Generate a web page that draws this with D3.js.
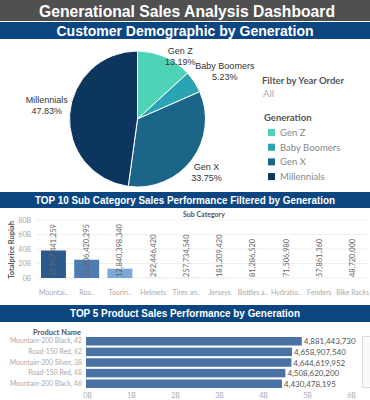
<!DOCTYPE html>
<meta charset="utf-8">
<title>Generational Sales Analysis Dashboard</title>
<style>
    body { margin: 0; background: #fff; }
    svg { display: block; }
    .band-title { fill: #fff; font-family: "Liberation Sans", Arial, sans-serif; font-weight: bold; text-anchor: middle; }
    .small { font-family: Lato, "Open Sans", sans-serif; }
</style>
<body>
</body>
<script src="https://d3js.org/d3.v7.min.js"></script>
<script>
    const width = 370, height = 400;

    // pie data
    const generations = ["Gen Z", "Baby Boomers", "Gen X", "Millennials"];
    const genShares = [13.19, 5.23, 33.75, 47.83];
    const genColors = ["#4fd3b6", "#2aa3b2", "#1b6688", "#0d365f"];

    // top 10 sub categories
    const subCategories = ["Mountai..", "Roa..", "Tourin..", "Helmets", "Tires an..", "Jerseys", "Bottles a..", "Hydratio..", "Fenders", "Bike Racks"];
    const subValues = [37967441259, 25206420295, 12840398340, 292446420, 257734540, 181209420, 81286520, 71506980, 57861360, 48720000];
    const subTicks = [0, 20e9, 40e9, 60e9, 80e9];

    // top 5 products
    const products = ["Mountain-200 Black, 42", "Road-150 Red, 62", "Mountain-200 Silver, 38", "Road-150 Red, 48", "Mountain-200 Black, 46"];
    const productValues = [4881443730, 4658907540, 4644619952, 4508620200, 4430478195];
    const productTicks = [0, 1e9, 2e9, 3e9, 4e9, 5e9, 6e9];

    const svg = d3.select("body").append("svg")
        .attr("width", width)
        .attr("height", height);

    // header bands (titles squeezed to the width seen in the dashboard)
    svg.append("rect").attr("x", 0).attr("y", 0).attr("width", width).attr("height", 21).attr("fill", "#505050");
    svg.append("text").attr("class", "band-title").attr("x", 187).attr("y", 17)
        .attr("textLength", 296).attr("lengthAdjust", "spacingAndGlyphs")
        .style("font-size", "17px").text("Generational Sales Analysis Dashboard");

    function band(y, h, size, len, label) {
        svg.append("rect").attr("x", 0).attr("y", y).attr("width", width).attr("height", h).attr("fill", "#0b4680");
        svg.append("text").attr("class", "band-title").attr("x", 185).attr("y", y + h / 2 + size * 0.36)
            .attr("textLength", len).attr("lengthAdjust", "spacingAndGlyphs")
            .style("font-size", size + "px").text(label);
    }
    band(22, 17, 14, 257, "Customer Demographic by Generation");
    band(192, 16, 10, 300, "TOP 10 Sub Category Sales Performance Filtered by Generation");
    band(305, 17, 11, 230, "TOP 5 Product Sales Performance by Generation");

    // ---- pie ----
    const pieData = generations.map((g, i) => ({name: g, value: genShares[i], color: genColors[i]}));
    const pie = d3.pie().sort(null).value(d => d.value);
    const arc = d3.arc().innerRadius(0).outerRadius(68);
    const pieG = svg.append("g").attr("transform", "translate(137.5,119)");
    pieG.selectAll("path")
        .data(pie(pieData))
        .join("path")
        .attr("d", arc)
        .attr("fill", d => d.data.color)
        .attr("stroke", "#fff")
        .attr("stroke-width", 1);

    // label positions around the pie
    const labelArc = d3.arc().innerRadius(84).outerRadius(84);
    const labelShift = {"Gen Z": [9, 12], "Baby Boomers": [17, -4], "Gen X": [2, 0], "Millennials": [-7, -10]};
    pieG.selectAll("g.lbl")
        .data(pie(pieData))
        .join("g")
        .attr("class", "lbl")
        .attr("transform", d => {
            const c = labelArc.centroid(d);
            const s = labelShift[d.data.name];
            return `translate(${c[0] + s[0]},${c[1] + s[1]})`;
        })
        .each(function (d) {
            const t = d3.select(this).append("text")
                .attr("text-anchor", "middle")
                .style("font-family", "Liberation Sans, Arial, sans-serif")
                .style("font-size", "9px")
                .attr("fill", "#333");
            t.append("tspan").attr("x", 0).attr("dy", 0).text(d.data.name);
            t.append("tspan").attr("x", 0).attr("dy", 11).text(d.data.value.toFixed(2) + "%");
        });

    // filter + legend
    svg.append("text").attr("class", "small").attr("x", 262).attr("y", 84)
        .style("font-size", "9.5px").style("font-weight", "bold").attr("fill", "#555").text("Filter by Year Order");
    svg.append("text").attr("class", "small").attr("x", 263).attr("y", 97)
        .style("font-size", "9.5px").attr("fill", "#aaa").text("All");
    svg.append("text").attr("class", "small").attr("x", 264).attr("y", 121)
        .style("font-size", "9.5px").style("font-weight", "bold").attr("fill", "#555").text("Generation");

    const legend = svg.append("g").selectAll("g")
        .data(pieData)
        .join("g")
        .attr("transform", (d, i) => `translate(268,${129 + i * 14.7})`);
    legend.append("rect").attr("width", 7).attr("height", 7).attr("fill", d => d.color);
    legend.append("text").attr("class", "small").attr("x", 12).attr("y", 7)
        .style("font-size", "9.5px").attr("fill", "#888").text(d => d.name);

    // ---- top 10 sub category ----
    const x1 = d3.scaleBand().domain(subCategories).range([37, 369]).paddingInner(0.25).paddingOuter(0.12);
    const y1 = d3.scaleLinear().domain([0, 80e9]).range([278, 220]);
    const c1 = d3.scaleLinear().domain([0, 13e9, 25e9, 38e9]).range(["#b9d3ee", "#7ba7d5", "#4d7db3", "#2c5a8c"]).clamp(true);

    const chart1 = svg.append("g");
    chart1.append("g")
        .selectAll("line")
        .data(subTicks)
        .join("line")
        .attr("x1", 37).attr("x2", 369)
        .attr("y1", d => y1(d)).attr("y2", d => y1(d))
        .attr("stroke", "#efefef");

    const yAxis1 = d3.axisLeft(y1).tickValues(subTicks).tickSize(0).tickFormat(d => (d / 1e9) + "B");
    chart1.append("g").attr("transform", "translate(34,0)").call(yAxis1)
        .call(g => g.select(".domain").remove())
        .selectAll("text").attr("class", "small").style("font-size", "7px").attr("fill", "#aaa");

    chart1.append("text").attr("class", "small")
        .attr("transform", "translate(14,250) rotate(-90)")
        .attr("text-anchor", "middle")
        .style("font-size", "7.5px").style("font-weight", "bold").attr("fill", "#555").text("Totalprice Rupiah");
    chart1.append("text").attr("class", "small").attr("x", 204).attr("y", 217)
        .attr("text-anchor", "middle")
        .style("font-size", "7px").style("font-weight", "bold").attr("fill", "#555").text("Sub Category");

    const subData = subCategories.map((s, i) => ({name: s, value: subValues[i]}));
    chart1.append("g").selectAll("rect")
        .data(subData)
        .join("rect")
        .attr("x", d => x1(d.name))
        .attr("width", x1.bandwidth())
        .attr("y", d => y1(d.value))
        .attr("height", d => y1(0) - y1(d.value))
        .attr("fill", d => c1(d.value));

    chart1.append("g").selectAll("text")
        .data(subData)
        .join("text")
        .attr("class", "small")
        .attr("transform", d => `translate(${x1(d.name) + x1.bandwidth() / 2 + 2.5},277) rotate(-90)`)
        .style("font-size", "7.5px").attr("fill", "#666")
        .text(d => d3.format(",")(d.value));

    const xAxis1 = d3.axisBottom(x1).tickSize(0);
    chart1.append("g").attr("transform", "translate(0,287)").call(xAxis1)
        .call(g => g.select(".domain").remove())
        .selectAll("text").attr("class", "small").style("font-size", "7px").attr("fill", "#aaa");

    // ---- top 5 products ----
    const x2 = d3.scaleLinear().domain([0, 6e9]).range([87, 351]);
    const y2 = d3.scaleBand().domain(products).range([337, 388]).paddingInner(0.2);
    const chart2 = svg.append("g");

    chart2.append("text").attr("class", "small").attr("x", 81).attr("y", 335)
        .attr("text-anchor", "end")
        .style("font-size", "7.5px").style("font-weight", "bold").attr("fill", "#555").text("Product Name");

    const productData = products.map((p, i) => ({name: p, value: productValues[i]}));
    chart2.append("g").selectAll("rect")
        .data(productData)
        .join("rect")
        .attr("x", x2(0) - 1)
        .attr("y", d => y2(d.name))
        .attr("width", d => x2(d.value) - x2(0) + 1)
        .attr("height", y2.bandwidth())
        .attr("fill", "#4a72a5");

    chart2.append("g").selectAll("text")
        .data(productData)
        .join("text")
        .attr("class", "small")
        .attr("x", d => x2(d.value) + 2)
        .attr("y", d => y2(d.name) + y2.bandwidth() / 2 + 3)
        .style("font-size", "8px").attr("fill", "#555")
        .text(d => d3.format(",")(d.value));

    const yAxis2 = d3.axisLeft(y2).tickSize(0).tickPadding(4);
    chart2.append("g").attr("transform", "translate(86,0)").call(yAxis2)
        .call(g => g.select(".domain").remove())
        .selectAll("text").attr("class", "small").style("font-size", "6.8px").attr("fill", "#aaa");

    const xAxis2 = d3.axisBottom(x2).tickValues(productTicks).tickSize(0).tickFormat(d => (d / 1e9) + "B");
    chart2.append("g").attr("transform", "translate(0,390)").call(xAxis2)
        .call(g => g.select(".domain").remove())
        .selectAll("text").attr("class", "small").style("font-size", "7px").attr("fill", "#aaa");

    // scroll box at right edge
    svg.append("rect").attr("x", 362.5).attr("y", 336.5).attr("width", 12).attr("height", 51)
        .attr("fill", "#fafafa").attr("stroke", "#dddddd");
</script>
